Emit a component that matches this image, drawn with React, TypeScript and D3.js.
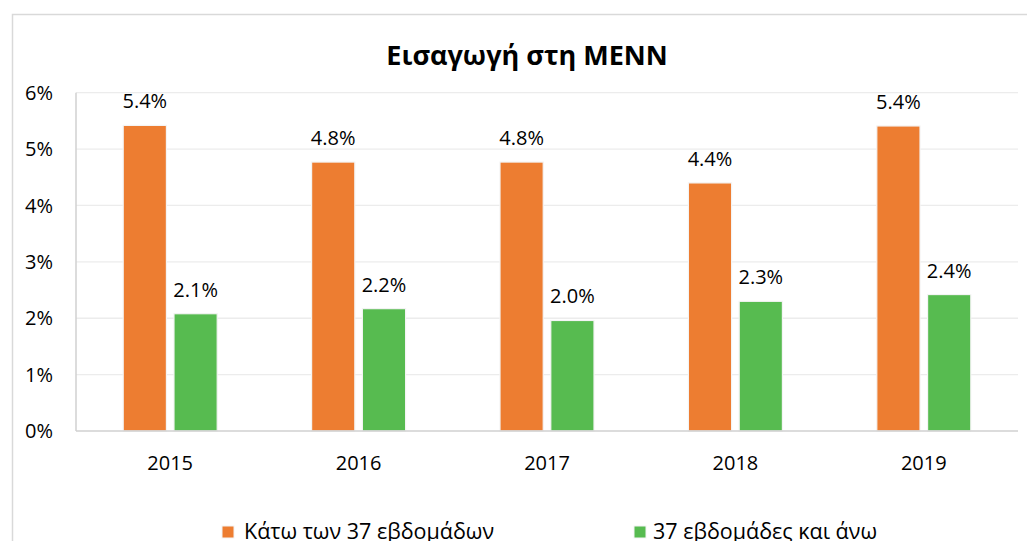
import React from "react";
import * as d3 from "d3";

const categories = ["2015", "2016", "2017", "2018", "2019"];
const seriesNames = ["Κάτω των 37 εβδομάδων", "37 εβδομάδες και άνω"];
const under37 = [5.42, 4.77, 4.77, 4.40, 5.41];
const over37 = [2.08, 2.17, 1.96, 2.30, 2.42];
const yTicks = [0, 1, 2, 3, 4, 5, 6];
const title = "Εισαγωγή στη ΜΕΝΝ";
const colors = ["#ED7D31", "#57BB50"];

const W = 1027;
const H = 541;
const left = 76;
const right = 1018;
const top = 92.7;
const bottom = 431;
const FONT = "'Open Sans', 'Noto Sans', sans-serif";

export default function App() {
  const x0 = d3.scaleBand<string>().domain(categories).range([left, right]).paddingInner(0).paddingOuter(0);
  const x1 = d3.scaleBand<number>().domain([0, 1]).range([-47, 47]).paddingInner(14 / 94);
  const y = d3.scaleLinear().domain([0, 6]).range([bottom, top]);
  const series = [under37, over37];

  return (
    <svg width={W} height={H} style={{ position: "absolute", left: 0, top: 0, background: "#fff" }} fontFamily={FONT}>
      <rect x={0} y={0} width={W} height={H} fill="#fff" />
      <rect x={12.5} y={14.5} width={1200} height={700} fill="none" stroke="#d9d9d9" strokeWidth={1.5} />
      <text x={527} y={65} textAnchor="middle" fontSize={27} fontWeight="bold" fill="#000">{title}</text>
      {yTicks.filter((t) => t > 0).map((t) => (
        <line key={"g" + t} x1={left} x2={right} y1={y(t)} y2={y(t)} stroke="#ececec" strokeWidth={1.3} />
      ))}
      {yTicks.map((t) => (
        <text key={"t" + t} x={53} y={y(t)} dy="0.36em" textAnchor="end" fontSize={20} fill="#000">{t + "%"}</text>
      ))}
      <line x1={left} x2={left} y1={top} y2={bottom} stroke="#d0d0d0" strokeWidth={1.5} />
      {categories.map((c, i) => {
        const cx = (x0(c) as number) + x0.bandwidth() / 2;
        return (
          <g key={c}>
            {series.map((s, k) => {
              const bx = cx + (x1(k) as number);
              const bw = x1.bandwidth();
              return (
                <g key={k}>
                  <rect x={bx} y={y(s[i])} width={bw} height={bottom - y(s[i])} fill={colors[k]} stroke="#f4f4f4" strokeWidth={1.2} />
                  <text x={bx + bw / 2} y={y(s[i]) - 17} textAnchor="middle" fontSize={20} fill="#000">
                    {s[i].toFixed(1) + "%"}
                  </text>
                </g>
              );
            })}
            <text x={cx} y={bottom + 39} textAnchor="middle" fontSize={20} fill="#000">{c}</text>
          </g>
        );
      })}
      <line x1={left} x2={right} y1={bottom} y2={bottom} stroke="#d0d0d0" strokeWidth={1.5} />
      <g>
        <rect x={222} y={526} width={12} height={12} fill={colors[0]} stroke="#f4f4f4" />
        <text x={244} y={538.5} fontSize={21.5} fill="#000">{seriesNames[0]}</text>
        <rect x={634} y={526} width={12} height={12} fill={colors[1]} stroke="#f4f4f4" />
        <text x={653} y={538.5} fontSize={21.5} fill="#000">{seriesNames[1]}</text>
      </g>
    </svg>
  );
}
